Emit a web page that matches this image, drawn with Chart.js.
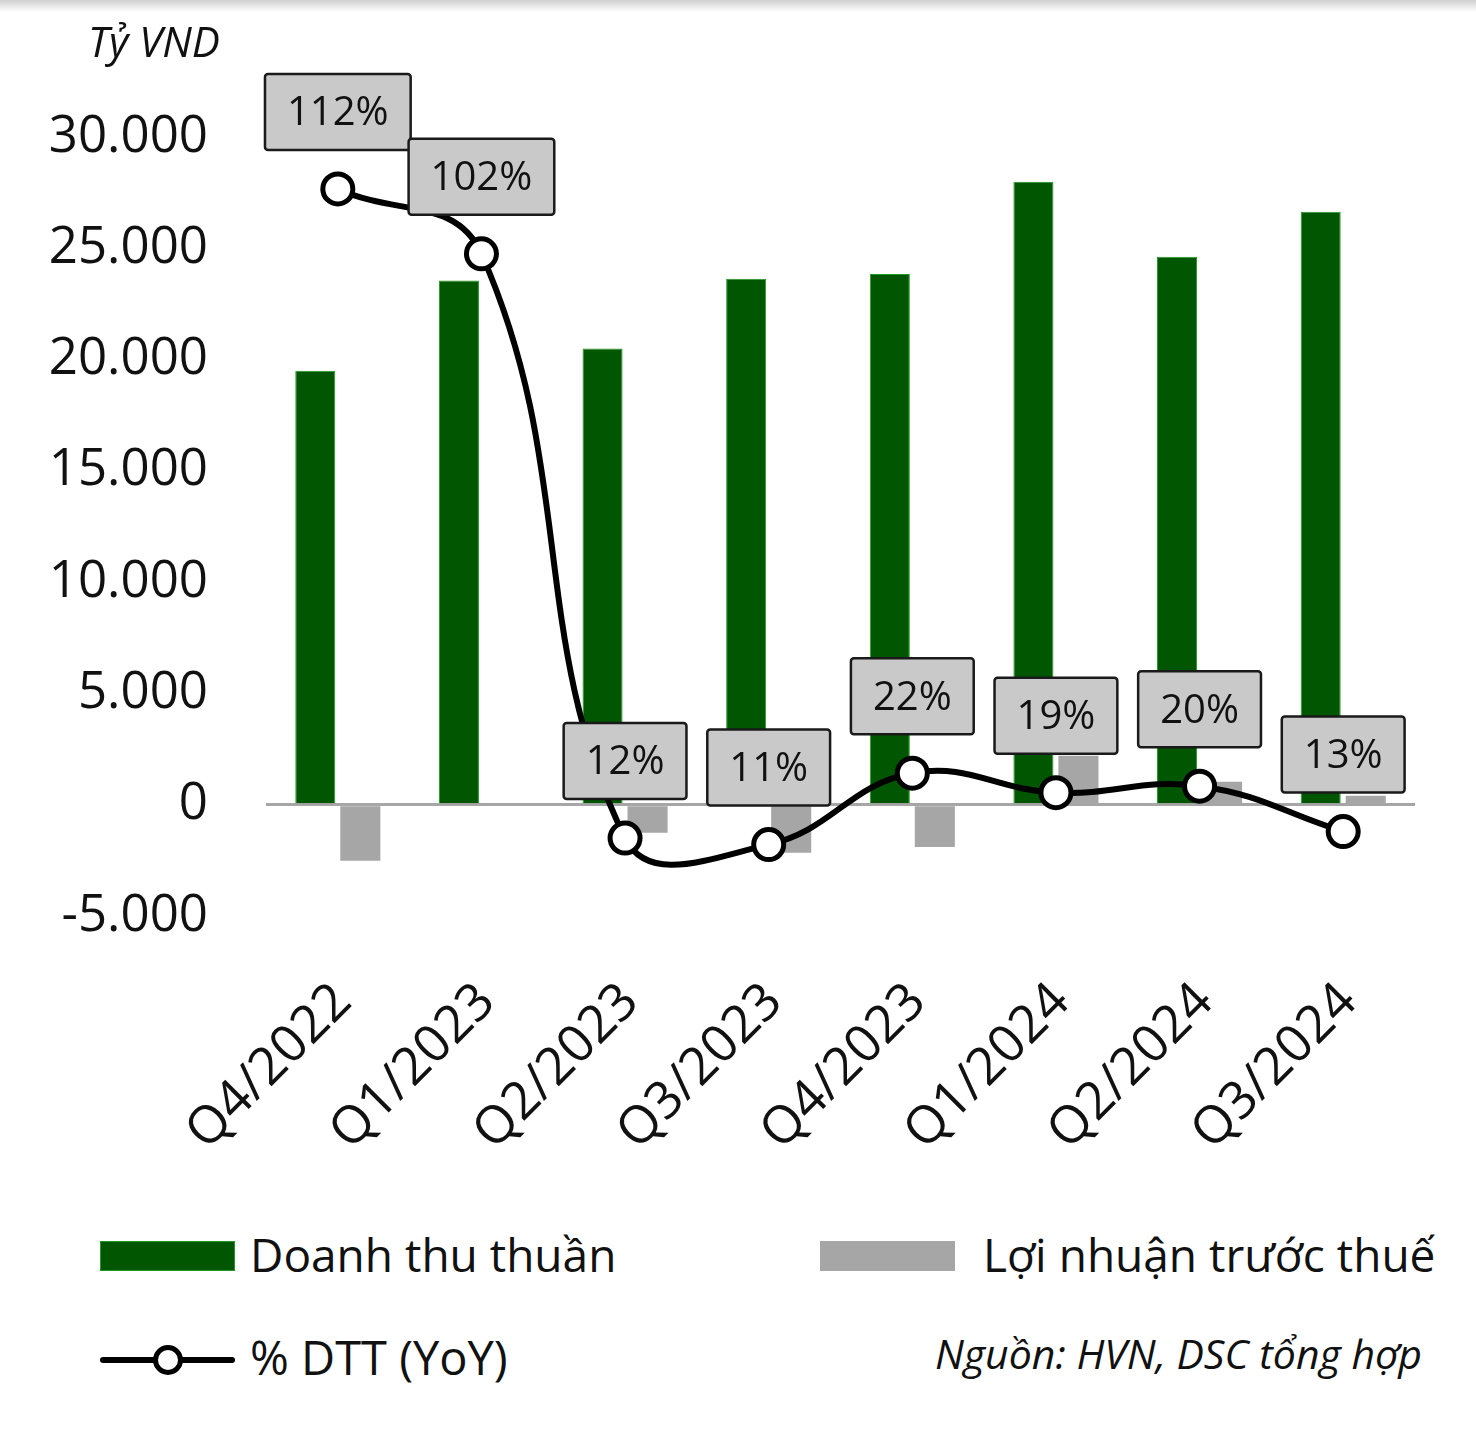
<!DOCTYPE html>
<html>
<head>
<meta charset="utf-8">
<script src="https://cdn.jsdelivr.net/npm/chart.js@4.4.1/dist/chart.umd.min.js"></script>
<style>
  html, body { margin: 0; padding: 0; background: #fff; }
  #wrap { position: relative; width: 1476px; height: 1430px; overflow: hidden; font-family: 'Open Sans', sans-serif; color: #111; }
  #topband { position: absolute; left: 0; top: 0; width: 1476px; height: 12px; background: linear-gradient(#cfcfcf, #ffffff); }
  #cv { position: absolute; left: 0; top: 0; }
  .txt { position: absolute; white-space: nowrap; line-height: 1; }
  .sw { position: absolute; }
</style>
</head>
<body>
<div id="wrap">
  <div id="topband"></div>
  <canvas id="cv" width="1476" height="1200"></canvas>
  <div class="txt" style="left:88px; top:20px; font-size:42px; font-style:italic;">Tỷ VND</div>

  <div class="sw" style="left:100px; top:1241px; width:133px; height:28px; background:#015701; border:1px solid #1f9a1f;"></div>
  <div class="txt" style="left:250px; top:1231px; font-size:46px;">Doanh thu thuần</div>
  <div class="sw" style="left:820px; top:1241px; width:135px; height:30px; background:#a6a6a6;"></div>
  <div class="txt" style="left:983px; top:1231px; font-size:46px;">Lợi nhuận trước thuế</div>

  <div class="sw" style="left:100px; top:1357px; width:135px; height:6px; background:#000; border-radius:3px;"></div>
  <div class="sw" style="left:153px; top:1345px; width:20px; height:20px; background:#fff; border:5px solid #000; border-radius:50%;"></div>
  <div class="txt" style="left:250px; top:1334px; font-size:47px;">% DTT (YoY)</div>
  <div class="txt" style="right:54px; top:1333px; font-size:41px; font-style:italic;">Nguồn: HVN, DSC tổng hợp</div>
</div>
<script>
const categories = ['Q4/2022', 'Q1/2023', 'Q2/2023', 'Q3/2023', 'Q4/2023', 'Q1/2024', 'Q2/2024', 'Q3/2024'];
const doanhThu = [19500, 23550, 20500, 23630, 23850, 27990, 24620, 26640];
const loiNhuan = [-2520, 0, -1260, -2160, -1900, 2200, 1030, 400];
const tangTruong = [112, 102, 12, 11, 22, 19, 20, 13];
const yTicks = [-5000, 0, 5000, 10000, 15000, 20000, 25000, 30000];

const FONT = "'Open Sans', sans-serif";

// so kieu 30.000
const fmt = v => (v < 0 ? '-' : '') + Math.abs(v).toLocaleString('de-DE');

// nhan % trong hop xam phia tren moi diem
const boxLabels = {
  id: 'boxLabels',
  afterDatasetsDraw(chart) {
    const { ctx } = chart;
    const meta = chart.getDatasetMeta(0);
    ctx.save();
    ctx.font = '40px ' + FONT;
    ctx.textAlign = 'center';
    ctx.textBaseline = 'middle';
    meta.data.forEach((pt, i) => {
      const s = tangTruong[i] + '%';
      const w = ctx.measureText(s).width + 44;
      const h = 76;
      const cx = pt.x, cy = pt.y - 77;
      ctx.beginPath();
      ctx.roundRect(cx - w / 2, cy - h / 2, w, h, 3);
      ctx.fillStyle = '#c9c9c9';
      ctx.fill();
      ctx.lineWidth = 2.5;
      ctx.strokeStyle = '#1a1a1a';
      ctx.stroke();
      ctx.fillStyle = '#111';
      ctx.fillText(s, cx, cy + 2);
    });
    ctx.restore();
  }
};

// nhan truc X xoay 45 do
const xLabels = {
  id: 'xLabels',
  afterDraw(chart) {
    const { ctx, chartArea } = chart;
    const xs = chart.scales.x;
    ctx.save();
    ctx.font = '52px ' + FONT;
    ctx.fillStyle = '#111';
    ctx.textAlign = 'right';
    ctx.textBaseline = 'alphabetic';
    categories.forEach((c, i) => {
      const x = xs.getPixelForValue(i) + 16;
      const y = chartArea.bottom + 88;
      ctx.save();
      ctx.translate(x, y);
      ctx.rotate(-Math.PI / 4);
      ctx.fillText(c, 0, 0);
      ctx.restore();
    });
    ctx.restore();
  }
};

new Chart(document.getElementById('cv'), {
  data: {
    labels: categories,
    datasets: [
      {
        type: 'line',
        label: '% DTT (YoY)',
        data: tangTruong,
        yAxisID: 'y1',
        order: 0,
        borderColor: '#000',
        borderWidth: 6,
        tension: 0.42,
        pointRadius: 15,
        pointBorderWidth: 5,
        pointBackgroundColor: '#fff',
        pointBorderColor: '#000',
        clip: false
      },
      {
        type: 'bar',
        label: 'Doanh thu thuần',
        data: doanhThu,
        yAxisID: 'y',
        order: 1,
        backgroundColor: '#015701',
        borderColor: '#1f9a1f',
        borderWidth: 1,
        categoryPercentage: 0.627,
        barPercentage: 0.89
      },
      {
        type: 'bar',
        label: 'Lợi nhuận trước thuế',
        data: loiNhuan,
        yAxisID: 'y',
        order: 2,
        backgroundColor: '#a6a6a6',
        borderWidth: 0,
        categoryPercentage: 0.627,
        barPercentage: 0.89
      }
    ]
  },
  options: {
    responsive: false,
    animation: false,
    layout: { padding: { left: 0, right: 61, top: 137, bottom: 0 } },
    plugins: { legend: { display: false }, tooltip: { enabled: false } },
    scales: {
      x: {
        grid: { display: false },
        border: { display: false },
        ticks: { display: false },
        afterFit: s => { s.height = 284; }
      },
      y: {
        min: -5000,
        max: 30000,
        afterBuildTicks: s => { s.ticks = yTicks.map(v => ({ value: v })); },
        afterFit: s => { s.width = 266; },
        border: { display: false },
        grid: {
          drawTicks: false,
          lineWidth: 3,
          color: c => (c.tick && c.tick.value === 0 ? '#a6a6a6' : 'rgba(0,0,0,0)')
        },
        ticks: {
          padding: 58,
          color: '#111',
          font: { family: FONT, size: 51 },
          callback: v => fmt(v)
        }
      },
      y1: {
        display: false,
        position: 'right',
        min: 0,
        max: 120
      }
    }
  },
  plugins: [boxLabels, xLabels]
});
</script>
</body>
</html>
